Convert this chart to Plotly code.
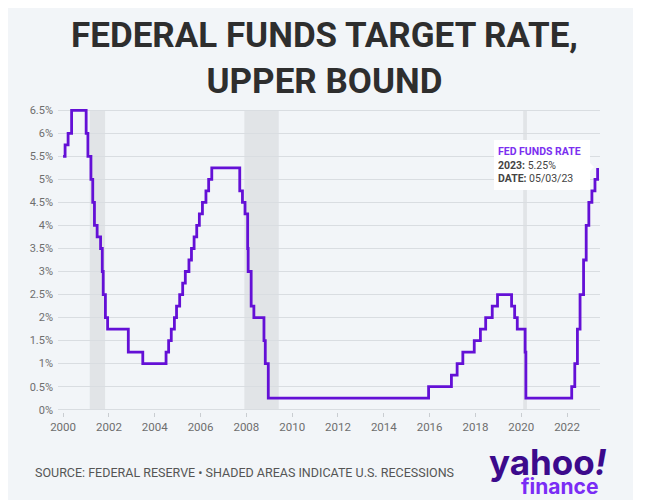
import plotly.graph_objects as go

# Federal funds target rate (upper bound) change dates and levels (%)
dates = [
    "2000-01-01", "2000-02-02", "2000-03-21", "2000-05-16",
    "2001-01-03", "2001-01-31", "2001-03-20", "2001-04-18", "2001-05-15",
    "2001-06-27", "2001-08-21", "2001-09-17", "2001-10-02", "2001-11-06",
    "2001-12-11", "2002-11-06", "2003-06-25", "2004-06-30", "2004-08-10",
    "2004-09-21", "2004-11-10", "2004-12-14", "2005-02-02", "2005-03-22",
    "2005-05-03", "2005-06-30", "2005-08-09", "2005-09-20", "2005-11-01",
    "2005-12-13", "2006-01-31", "2006-03-28", "2006-05-10", "2006-06-29",
    "2007-09-18", "2007-10-31", "2007-12-11", "2008-01-22", "2008-01-30",
    "2008-03-18", "2008-04-30", "2008-10-08", "2008-10-29", "2008-12-16",
    "2015-12-16", "2016-12-14", "2017-03-15", "2017-06-14", "2017-12-13",
    "2018-03-21", "2018-06-13", "2018-09-26", "2018-12-19", "2019-07-31",
    "2019-09-18", "2019-10-30", "2020-03-03", "2020-03-15", "2022-03-16",
    "2022-05-04", "2022-06-15", "2022-07-27", "2022-09-21", "2022-11-02",
    "2022-12-14", "2023-02-01", "2023-03-22", "2023-05-03",
]
rates = [
    5.5, 5.75, 6.0, 6.5,
    6.0, 5.5, 5.0, 4.5, 4.0,
    3.75, 3.5, 3.0, 2.5, 2.0,
    1.75, 1.25, 1.0, 1.25, 1.5,
    1.75, 2.0, 2.25, 2.5, 2.75,
    3.0, 3.25, 3.5, 3.75, 4.0,
    4.25, 4.5, 4.75, 5.0, 5.25,
    4.75, 4.5, 4.25, 3.5, 3.0,
    2.25, 2.0, 1.5, 1.0, 0.25,
    0.5, 0.75, 1.0, 1.25, 1.5,
    1.75, 2.0, 2.25, 2.5, 2.25,
    2.0, 1.75, 1.25, 0.25, 0.5,
    1.0, 1.75, 2.5, 3.25, 4.0,
    4.5, 4.75, 5.0, 5.25,
]

recession_starts = ["2001-03-01", "2007-12-01", "2020-02-01"]
recession_ends = ["2001-11-01", "2009-06-01", "2020-04-01"]

y_ticks = [0, 0.5, 1, 1.5, 2, 2.5, 3, 3.5, 4, 4.5, 5, 5.5, 6, 6.5]
y_tick_labels = ["0%", "0.5%", "1%", "1.5%", "2%", "2.5%", "3%", "3.5%",
                 "4%", "4.5%", "5%", "5.5%", "6%", "6.5%"]

title_lines = ["FEDERAL FUNDS TARGET RATE,", "UPPER BOUND"]
source_text = "SOURCE: FEDERAL RESERVE • SHADED AREAS INDICATE U.S. RECESSIONS"
tip_lines = ["FED FUNDS RATE", "2023:", "5.25%", "DATE:", "05/03/23"]

# the page body adds an 8px offset, so the figure covers the panel only
W, H = 625, 492
L, R, T, B = 50, 33, 100, 88
PW, PH = W - L - R, H - T - B

def px(x):
    return (x - L) / PW

def py(y):
    return (H - B - y) / PH

PANEL = "#f2f5f8"
PURPLE = "#6410d6"
FONT = "Roboto, Lato, sans-serif"

fig = go.Figure()
fig.add_trace(go.Scatter(
    x=dates, y=rates, mode="lines", line=dict(color=PURPLE, width=2.8, shape="hv"),
    hoverinfo="skip", showlegend=False,
))

shapes = []
for s, e in zip(recession_starts, recession_ends):
    shapes.append(dict(type="rect", xref="x", yref="y", x0=s, x1=e, y0=0, y1=6.5,
                       fillcolor="#e1e4e7", line=dict(width=0), layer="below"))
# tooltip pointer
shapes.append(dict(type="path", xref="paper", yref="paper",
                   path=f"M {px(579)} {py(152)} L {px(586)} {py(159)} L {px(579)} {py(166)} Z",
                   fillcolor="white", line=dict(width=0), layer="above"))

annotations = [
    dict(text=f"<b>{title_lines[0]}<br>{title_lines[1]}</b>", xref="paper", yref="paper",
         x=px(316), y=py(50),
         xanchor="center", yanchor="middle", showarrow=False,
         font=dict(family=FONT, size=35, color="#2e2e2e", weight=900)),
    dict(text=source_text, xref="paper", yref="paper", x=px(25), y=py(464),
         xanchor="left", yanchor="middle", showarrow=False,
         font=dict(family=FONT, size=12.5, color="#555555")),
    dict(text="<b>yahoo<i>!</i></b>", xref="paper", yref="paper", x=px(540), y=py(454),
         xanchor="center", yanchor="middle", showarrow=False,
         font=dict(family="Inter, Lato, sans-serif", size=35, color="#3c0a8c", weight=900)),
    dict(text="<b>finance</b>", xref="paper", yref="paper", x=px(551), y=py(478),
         xanchor="center", yanchor="middle", showarrow=False,
         font=dict(family="Inter, Lato, sans-serif", size=21, color="#7a2cf5", weight=800)),
    dict(text=(f"<b><span style='color:#7b2ff0'>{tip_lines[0]}</span></b><br>"
               f"<b>{tip_lines[1]}</b> {tip_lines[2]}<br>"
               f"<b>{tip_lines[3]}</b> {tip_lines[4]}"),
         xref="paper", yref="paper", x=px(486), y=py(132),
         xanchor="left", yanchor="top", align="left", showarrow=False,
         width=88, height=42, valign="middle",
         bgcolor="white", borderpad=4, borderwidth=0,
         font=dict(family=FONT, size=10.5, color="#444444")),
]

fig.update_layout(
    width=W, height=H,
    margin=dict(l=L, r=R, t=T, b=B),
    paper_bgcolor=PANEL, plot_bgcolor=PANEL,
    shapes=shapes, annotations=annotations,
    xaxis=dict(
        type="date", range=["1999-10-12", "2023-06-10"],
        tickmode="linear", tick0="2000-01-01", dtick="M24", tickformat="%Y",
        showgrid=False, zeroline=False, showline=False,
        ticks="outside", ticklen=4, tickcolor="#c9cdd1", tickwidth=1,
        tickfont=dict(family=FONT, size=11.5, color="#6e6e6e"),
    ),
    yaxis=dict(
        range=[-0.05, 6.55], tickvals=y_ticks, ticktext=y_tick_labels,
        showgrid=True, gridcolor="#d9dde1", gridwidth=1, zeroline=False, showline=False,
        ticks="", ticklabelstandoff=4,
        tickfont=dict(family=FONT, size=11, color="#6e6e6e"),
    ),
)

fig.write_html("out.html")
